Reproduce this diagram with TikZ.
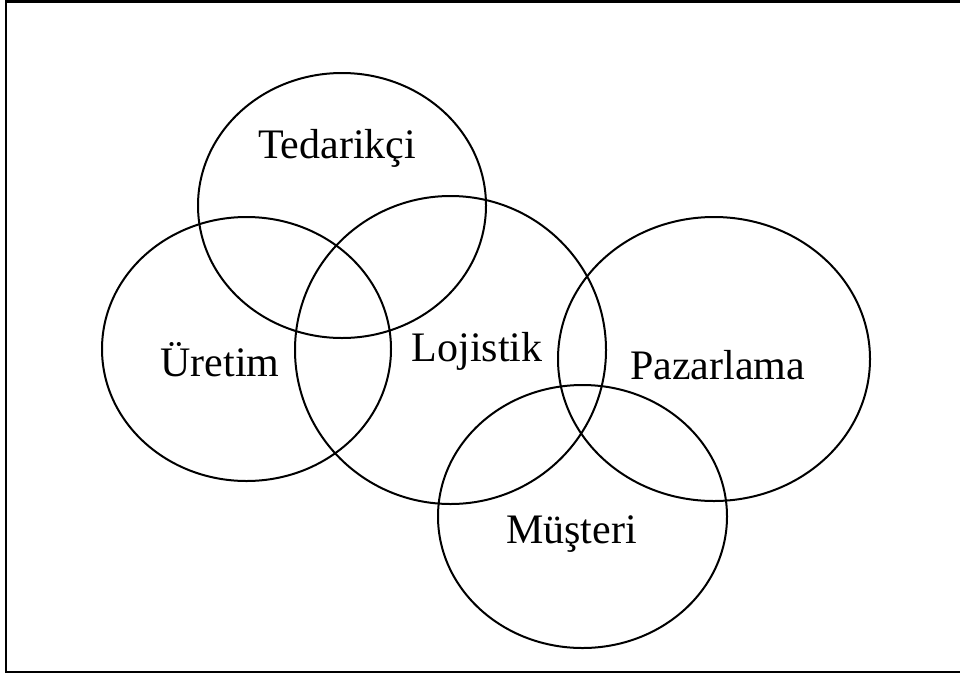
\documentclass[tikz,border=0pt]{standalone}
\usepackage{fontspec}
\setmainfont{Liberation Serif}
\usetikzlibrary{shapes.geometric}
\begin{document}
\begin{tikzpicture}[x=1pt,y=-1pt,
  ring/.style={ellipse,draw,line width=2pt,inner sep=0pt},
  lbl/.style={anchor=base,inner sep=0pt,font=\fontsize{42}{50}\selectfont}]
\useasboundingbox (0,0) rectangle (960,675);
\clip (0,0) rectangle (960,675);
\fill[white] (0,0) rectangle (960,675);
\draw[line width=2.5pt] (1000,1.5) -- (6,1.5) -- (6,672) -- (1000,672);
\node[ring,minimum width=288pt,minimum height=265pt] (ted) at (342,205.5) {};
\node[ring,minimum width=289pt,minimum height=264pt] (ure) at (246.5,349) {};
\node[ring,minimum width=311pt,minimum height=308pt] (loj) at (450.5,350) {};
\node[ring,minimum width=312pt,minimum height=284pt] (paz) at (714,359) {};
\node[ring,minimum width=289pt,minimum height=263pt] (mus) at (582.5,516.5) {};
\node[lbl] (tedl) at (337,158) {Tedarikçi};
\node[lbl] (urel) at (220,376) {Üretim};
\node[lbl] (lojl) at (477,361) {Lojistik};
\node[lbl] (pazl) at (717.5,379) {Pazarlama};
\node[lbl] (musl) at (571.5,543) {Müşteri};
\end{tikzpicture}
\end{document}
